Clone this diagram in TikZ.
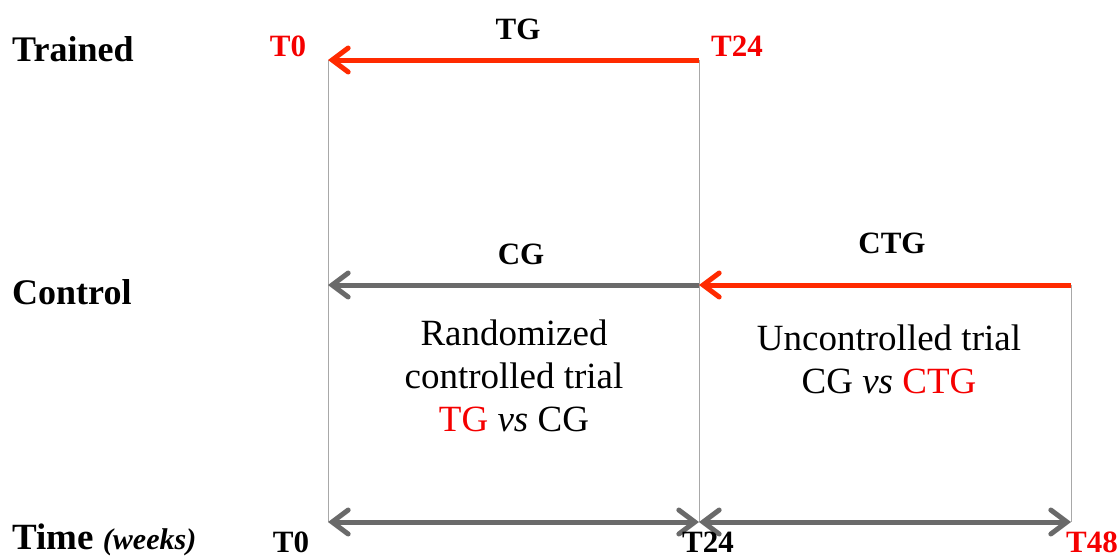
\documentclass[tikz,border=0pt]{standalone}
\usepackage{fontspec}
\setmainfont{Liberation Serif}
\usetikzlibrary{arrows.meta}
\definecolor{arrred}{HTML}{FF2A00}
\definecolor{txtred}{HTML}{F50000}
\definecolor{arrgray}{HTML}{6A6A6A}
\definecolor{thin}{HTML}{A8A8A8}
\tikzset{
  tip/.style={-{Straight Barb[length=16pt,width=24pt,line width=5pt,line cap=round]}},
  redarrow/.style={draw=arrred,line width=5pt,tip},
  grayarrow/.style={draw=arrgray,line width=5pt,tip},
  bigarrow/.style={draw=arrgray,line width=5pt,{Straight Barb[length=16pt,width=24pt,line width=5pt,line cap=round]}-{Straight Barb[length=16pt,width=24pt,line width=5pt,line cap=round]}},
  vline/.style={draw=thin,line width=1pt},
  rowlabel/.style={anchor=west,font=\fontsize{36}{42}\selectfont\bfseries,inner sep=0pt},
  tlabel/.style={font=\fontsize{31}{36}\selectfont\bfseries,inner sep=0pt},
  body/.style={font=\fontsize{37}{43}\selectfont,align=center,inner sep=0pt}
}
\begin{document}
\begin{tikzpicture}[x=1pt,y=-1pt]
\useasboundingbox (0,0) rectangle (1119,557);
% coordinates
\coordinate (a0) at (328,60);
\coordinate (a24) at (699,60);
\coordinate (b0) at (328,285);
\coordinate (b24) at (699,285);
\coordinate (b48) at (1071,285);
\coordinate (c0) at (328,522);
\coordinate (c24) at (699,522);
\coordinate (c48) at (1071,522);
% thin verticals
\draw[vline] (a0) -- (c0);
\draw[vline] (a24) -- (c24);
\draw[vline] (b48) -- (c48);
% arrows
\draw[redarrow] (a24) -- (a0);
\draw[grayarrow] (b24) -- (b0);
\draw[redarrow] (b48) -- (b24);
\draw[bigarrow] (c0) -- (c24);
\draw[bigarrow] (c24) -- (c48);
% labels
\node[rowlabel] (trained) at (12,49) {Trained};
\node[rowlabel] (control) at (12,292) {Control};
\node[rowlabel] (time) at (12,540) {\fontsize{37}{42}\selectfont Time \fontsize{30}{34}\selectfont\itshape(weeks)};
\node[tlabel,text=txtred] (t0top) at (288,46) {T0};
\node[tlabel,text=txtred] (t24top) at (737,46) {T24};
\node[tlabel] (tg) at (518,29) {TG};
\node[tlabel] (cg) at (521,254) {CG};
\node[tlabel] (ctg) at (892,243) {CTG};
\node[tlabel] (t0b) at (291,542) {T0};
\node[tlabel] (t24b) at (708,542) {T24};
\node[tlabel,text=txtred] (t48b) at (1092,542) {T48};
\node[body] (rct) at (514,376) {Randomized\\controlled trial\\\textcolor{txtred}{TG} \textit{vs} CG};
\node[body] (uct) at (889,359) {Uncontrolled trial\\CG \textit{vs} \textcolor{txtred}{CTG}};
\end{tikzpicture}
\end{document}
